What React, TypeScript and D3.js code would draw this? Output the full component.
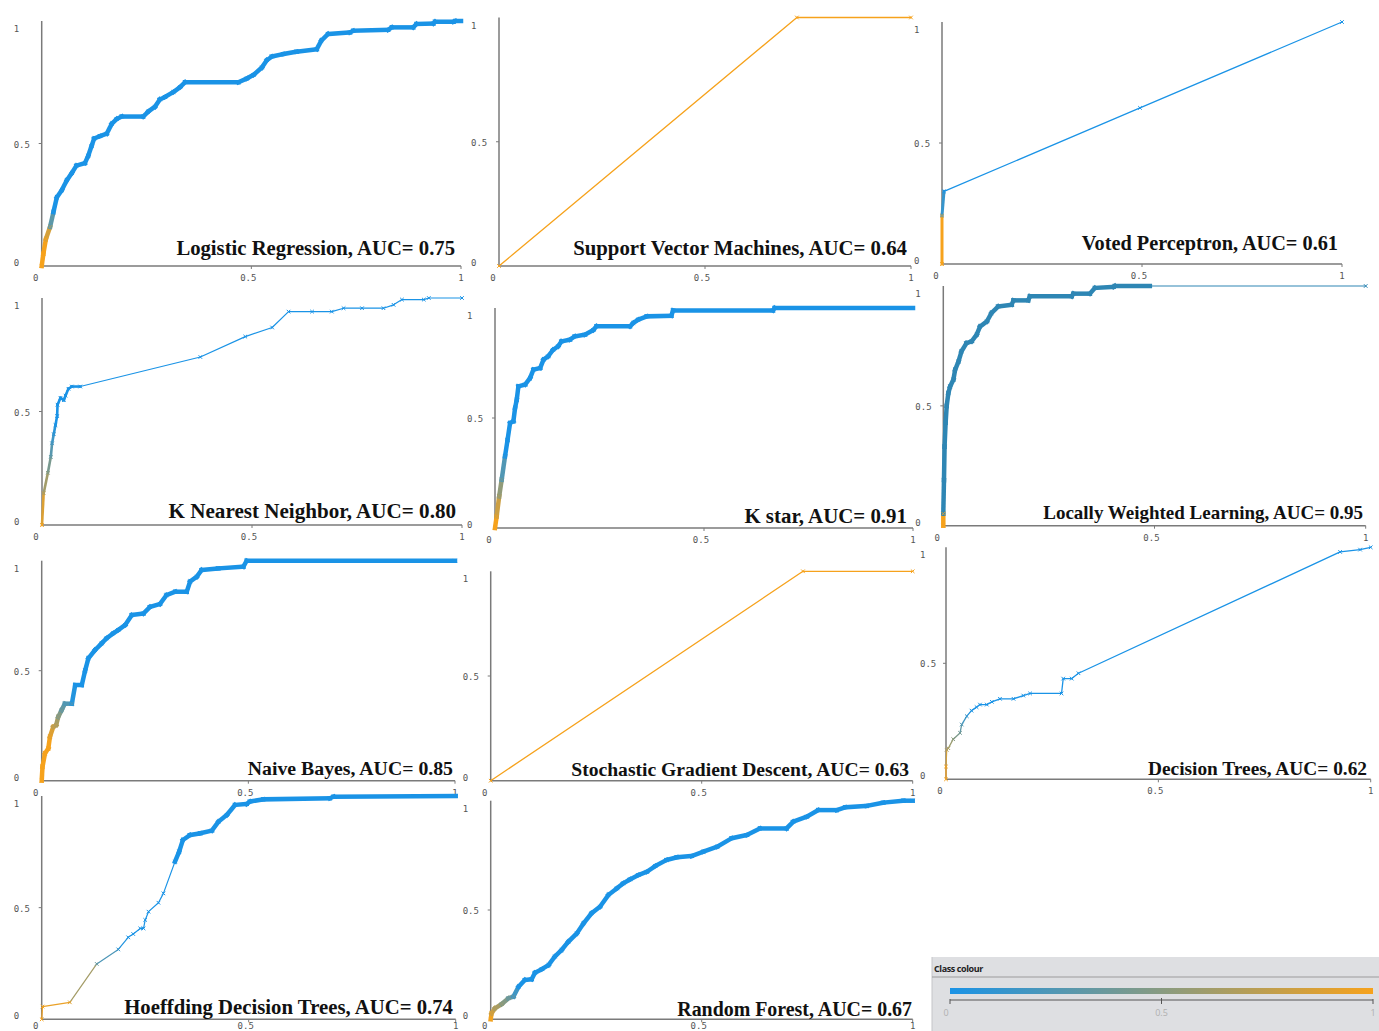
import React from "react";
import * as d3 from "d3";

type Pt = [number, number];

// ---- ROC data (FPR, TPR) ----
const logisticRegression: Pt[] = [
  [0, 0], [0.004, 0.05], [0.01, 0.11], [0.02, 0.16], [0.028, 0.22], [0.036, 0.28], [0.048, 0.31],
  [0.06, 0.35], [0.072, 0.38], [0.083, 0.41], [0.103, 0.42], [0.111, 0.45], [0.119, 0.49],
  [0.125, 0.52], [0.139, 0.53], [0.155, 0.54], [0.167, 0.58], [0.179, 0.6], [0.191, 0.61],
  [0.242, 0.61], [0.254, 0.63], [0.27, 0.65], [0.282, 0.68], [0.294, 0.69], [0.314, 0.71],
  [0.33, 0.73], [0.342, 0.75], [0.469, 0.75], [0.489, 0.765], [0.505, 0.78], [0.525, 0.81],
  [0.537, 0.84], [0.549, 0.855], [0.576, 0.865], [0.608, 0.875], [0.656, 0.885], [0.667, 0.92],
  [0.683, 0.947], [0.735, 0.953], [0.743, 0.96], [0.826, 0.964], [0.835, 0.974], [0.886, 0.974],
  [0.894, 0.988], [0.934, 0.99], [0.938, 0.997], [0.982, 0.997], [0.986, 1.0], [1, 1],
];
const supportVectorMachines: Pt[] = [[0, 0], [0.723, 1.0], [1, 1.0]];
const votedPerceptron: Pt[] = [[0, 0], [0, 0.2], [0.005, 0.3], [0.495, 0.645], [1, 1]];
const kNearestNeighbor: Pt[] = [
  [0, 0], [0.004, 0.14], [0.014, 0.23], [0.021, 0.3], [0.024, 0.36], [0.028, 0.4], [0.032, 0.44],
  [0.036, 0.48], [0.037, 0.53], [0.044, 0.56], [0.052, 0.55], [0.056, 0.57], [0.063, 0.6],
  [0.071, 0.61], [0.091, 0.61], [0.377, 0.74], [0.484, 0.83], [0.548, 0.87], [0.587, 0.94],
  [0.643, 0.94], [0.69, 0.94], [0.718, 0.955], [0.762, 0.955], [0.813, 0.955], [0.837, 0.97],
  [0.857, 0.993], [0.909, 0.993], [0.921, 1.0], [1, 1],
];
const kStar: Pt[] = [
  [0, 0], [0.004, 0.053], [0.01, 0.144], [0.016, 0.22], [0.024, 0.326], [0.03, 0.4], [0.036, 0.477],
  [0.044, 0.485], [0.048, 0.545], [0.052, 0.583], [0.056, 0.644], [0.072, 0.652], [0.084, 0.682],
  [0.092, 0.72], [0.108, 0.727], [0.116, 0.765], [0.127, 0.78], [0.139, 0.81], [0.151, 0.826],
  [0.159, 0.848], [0.179, 0.856], [0.191, 0.871], [0.215, 0.879], [0.235, 0.9], [0.243, 0.917],
  [0.323, 0.917], [0.331, 0.932], [0.343, 0.947], [0.363, 0.962], [0.422, 0.965], [0.426, 0.989],
  [0.665, 0.989], [0.669, 1.0], [1, 1],
];
const locallyWeightedLearning: Pt[] = [
  [0, 0], [0, 0.05], [0.0016, 0.19], [0.003, 0.33], [0.0055, 0.43], [0.008, 0.5], [0.012, 0.553],
  [0.016, 0.58], [0.024, 0.61], [0.028, 0.65], [0.036, 0.685], [0.043, 0.727], [0.055, 0.762],
  [0.067, 0.769], [0.079, 0.797], [0.087, 0.831], [0.103, 0.852], [0.114, 0.887], [0.13, 0.915],
  [0.162, 0.922], [0.166, 0.94], [0.201, 0.94], [0.205, 0.957], [0.304, 0.957], [0.308, 0.968],
  [0.347, 0.968], [0.359, 0.992], [0.403, 0.996], [0.406, 1.0], [0.489, 1.0], [1, 1],
];
const naiveBayes: Pt[] = [
  [0, 0], [0.002, 0.064], [0.008, 0.124], [0.016, 0.147], [0.02, 0.2], [0.028, 0.245], [0.035, 0.253],
  [0.04, 0.29], [0.048, 0.32], [0.056, 0.35], [0.073, 0.35], [0.081, 0.435], [0.097, 0.435],
  [0.105, 0.5], [0.113, 0.556], [0.129, 0.594], [0.145, 0.624], [0.157, 0.647], [0.173, 0.67],
  [0.185, 0.685], [0.202, 0.708], [0.218, 0.753], [0.246, 0.76], [0.262, 0.79], [0.286, 0.803],
  [0.302, 0.844], [0.323, 0.859], [0.351, 0.859], [0.359, 0.905], [0.375, 0.927], [0.387, 0.958],
  [0.427, 0.965], [0.488, 0.973], [0.496, 1.0], [1, 1],
];
const stochasticGradientDescent: Pt[] = [[0, 0], [0.74, 1.0], [1, 1.0]];
const decisionTrees: Pt[] = [
  [0, 0], [0, 0.055], [0.0016, 0.127], [0.0055, 0.134], [0.017, 0.173], [0.033, 0.2], [0.037, 0.236],
  [0.049, 0.272], [0.06, 0.296], [0.072, 0.311], [0.08, 0.322], [0.096, 0.322], [0.108, 0.334],
  [0.127, 0.347], [0.159, 0.347], [0.182, 0.361], [0.198, 0.37], [0.272, 0.37], [0.276, 0.434],
  [0.296, 0.434], [0.312, 0.457], [0.928, 0.98], [0.975, 0.99], [1, 1.0],
];
const hoeffdingTrees: Pt[] = [
  [0, 0], [0.002, 0.057], [0.068, 0.076], [0.133, 0.248], [0.185, 0.313], [0.209, 0.367],
  [0.221, 0.382], [0.238, 0.407], [0.246, 0.407], [0.25, 0.445], [0.258, 0.482], [0.282, 0.522],
  [0.294, 0.564], [0.322, 0.706], [0.332, 0.751], [0.341, 0.803], [0.358, 0.825], [0.383, 0.833],
  [0.411, 0.845], [0.427, 0.885], [0.447, 0.915], [0.467, 0.96], [0.495, 0.964], [0.503, 0.975],
  [0.535, 0.985], [0.696, 0.99], [0.705, 0.997], [1, 1],
];
const randomForest: Pt[] = [
  [0, 0], [0.002, 0.027], [0.01, 0.05], [0.026, 0.07], [0.042, 0.096], [0.054, 0.104], [0.066, 0.149],
  [0.081, 0.18], [0.097, 0.183], [0.105, 0.213], [0.121, 0.229], [0.137, 0.248], [0.152, 0.287],
  [0.168, 0.317], [0.184, 0.355], [0.204, 0.393], [0.22, 0.439], [0.239, 0.485], [0.259, 0.515],
  [0.279, 0.569], [0.299, 0.599], [0.314, 0.622], [0.33, 0.64], [0.35, 0.66], [0.37, 0.675],
  [0.39, 0.701], [0.417, 0.729], [0.441, 0.741], [0.476, 0.747], [0.504, 0.767], [0.537, 0.79],
  [0.571, 0.828], [0.607, 0.843], [0.638, 0.873], [0.701, 0.873], [0.717, 0.904], [0.749, 0.927],
  [0.776, 0.957], [0.82, 0.957], [0.84, 0.97], [0.891, 0.976], [0.93, 0.991], [0.978, 1.0], [1, 1.0],
];

const modelNames = [
  "Logistic Regression", "Support Vector Machines", "Voted Perceptron",
  "K Nearest Neighbor", "K star", "Locally Weighted Learning",
  "Naive Bayes", "Stochastic Gradient Descent", "Decision Trees",
  "Hoeffding Decision Trees", "Random Forest",
];
const aucValues = ["0.75", "0.64", "0.61", "0.80", "0.91", "0.95", "0.85", "0.63", "0.62", "0.74", "0.67"];
const series = [
  logisticRegression, supportVectorMachines, votedPerceptron,
  kNearestNeighbor, kStar, locallyWeightedLearning,
  naiveBayes, stochasticGradientDescent, decisionTrees,
  hoeffdingTrees, randomForest,
];
const tickValues = [0, 0.5, 1];
const tickLabels = ["0", "0.5", "1"];
const legendTicks = [0, 0.5, 1];
const legendLabels = ["0", "0.5", "1"];

// ---- layout & style (not data) ----
type Layout = {
  x0: number; x1: number; yb: number; yt: number; tx: number; ty: number; fs: number;
  wide: number; thin: number; thick: [number, number]; fade: [number, number];
  blue?: string; xl?: number; yl?: number;
};
const layouts: Layout[] = [
  { x0: 41.7, x1: 461, yb: 266, yt: 21, tx: 455, ty: 255, fs: 20.7, wide: 4.5, thin: 1.3, thick: [0, 1], fade: [0.12, 0.22] },
  { x0: 499, x1: 911, yb: 266, yt: 17.5, tx: 907, ty: 255, fs: 20.8, wide: 1.3, thin: 1.3, thick: [2, 2], fade: [9, 10] },
  { x0: 942, x1: 1342, yb: 264, yt: 22, tx: 1338, ty: 250, fs: 20.3, wide: 3, thin: 1.2, thick: [0, 0.01], fade: [0.18, 0.26] },
  { x0: 42, x1: 462, yb: 525, yt: 298, tx: 456, ty: 518, fs: 21.1, wide: 2.6, thin: 1.2, thick: [0, 0.092], fade: [0.02, 0.45] },
  { x0: 495, x1: 913, yb: 528, yt: 308, tx: 907, ty: 523, fs: 20.9, wide: 4.5, thin: 1.3, thick: [0, 1], fade: [0.04, 0.35] },
  { x0: 943.3, x1: 1365.7, yb: 525.7, yt: 286, tx: 1363, ty: 519, fs: 19.0, wide: 4.5, thin: 1.2, thick: [0, 0.49], fade: [0.04, 0.1], blue: "#2e86b4" },
  { x0: 41.7, x1: 455, yb: 780.7, yt: 560.7, tx: 453, ty: 775, fs: 19.8, wide: 4.5, thin: 1.3, thick: [0, 1], fade: [0.2, 0.4] },
  { x0: 490.7, x1: 912.7, yb: 780.7, yt: 571.3, tx: 909, ty: 776, fs: 19.6, wide: 1.3, thin: 1.3, thick: [2, 2], fade: [9, 10] },
  { x0: 946, x1: 1370.7, yb: 779.3, yt: 547.3, tx: 1367, ty: 775, fs: 19.35, wide: 1.4, thin: 1.3, thick: [2, 2], fade: [0.05, 0.3], yl: 26 },
  { x0: 41.7, x1: 455.7, yb: 1019.3, yt: 796, tx: 453, ty: 1014, fs: 20.75, wide: 4.5, thin: 1.2, thick: [0.32, 1], fade: [0.05, 0.35], xl: 9.5 },
  { x0: 490.7, x1: 912.7, yb: 1019.3, yt: 800.7, tx: 912, ty: 1016, fs: 19.9, wide: 4.5, thin: 1.3, thick: [0, 1], fade: [0.01, 0.15], xl: 9.5 },
];

const BLUE = "#1a93e6";
const ORANGE = "#f6a21c";
const AXIS = "#7a7a7a";
const LABEL_FONT = "'DejaVu Sans Mono', monospace";

function Panel({ data, lay, name, auc }: { data: Pt[]; lay: Layout; name: string; auc: string }) {
  const x = d3.scaleLinear().domain([0, 1]).range([lay.x0, lay.x1]);
  const y = d3.scaleLinear().domain([0, 1]).range([lay.yb, lay.yt]);
  const blue = lay.blue ?? BLUE;
  const colorOf = (v: number) => {
    const t = Math.max(0, Math.min(1, (v - lay.fade[0]) / (lay.fade[1] - lay.fade[0])));
    return d3.interpolateRgb(ORANGE, blue)(t);
  };
  const isThick = (a: Pt, b: Pt) => a[0] >= lay.thick[0] - 1e-9 && b[0] <= lay.thick[1] + 1e-9;
  const segs = [] as JSX.Element[];
  const marks = [] as JSX.Element[];
  for (let i = 1; i < data.length; i++) {
    const a = data[i - 1], b = data[i];
    const thick = isThick(a, b);
    const c = colorOf((a[1] + b[1]) / 2);
    segs.push(
      <line key={"s" + i} x1={x(a[0])} y1={y(a[1])} x2={x(b[0])} y2={y(b[1])}
        stroke={c} strokeWidth={thick ? lay.wide : lay.thin}
        strokeLinecap={thick && lay.wide > 2 ? "square" : "round"} />
    );
  }
  data.forEach((p, i) => {
    const c = colorOf(p[1]);
    const px = x(p[0]), py = y(p[1]);
    const s = 1.8;
    marks.push(
      <path key={"m" + i} d={`M${px - s},${py - s}L${px + s},${py + s}M${px - s},${py + s}L${px + s},${py - s}`}
        stroke={c} strokeWidth={1} fill="none" />
    );
  });
  const xMid = x(0.5), yMid = y(0.5);
  const xl = lay.xl ?? 15;
  const yl = lay.yl ?? 28;
  return (
    <g>
      <line x1={lay.x0} y1={lay.yt} x2={lay.x0} y2={lay.yb} stroke={AXIS} strokeWidth={1.5} />
      <line x1={lay.x0} y1={lay.yb} x2={lay.x1} y2={lay.yb} stroke={AXIS} strokeWidth={1.5} />
      <line x1={lay.x0 - 3} y1={yMid} x2={lay.x0} y2={yMid} stroke={AXIS} strokeWidth={1} />
      <line x1={xMid} y1={lay.yb} x2={xMid} y2={lay.yb + 3} stroke={AXIS} strokeWidth={1} />
      <line x1={lay.x1} y1={lay.yb} x2={lay.x1} y2={lay.yb + 3} stroke={AXIS} strokeWidth={1} />
      {tickValues.map((v, i) => {
        const xOff = i === 0 ? -6 : i === 1 ? -3 : 0;
        return (
          <text key={"xt" + i} x={x(v) + xOff} y={lay.yb + xl} textAnchor="middle"
            fontFamily={LABEL_FONT} fontSize={9} fill="#555">{tickLabels[i]}</text>
        );
      })}
      {tickValues.map((v, i) => {
        const yOff = i === 0 ? -3 : i === 1 ? 1 : 8;
        return (
          <text key={"yt" + i} x={lay.x0 - yl} y={y(v) + yOff + 3} textAnchor="start"
            fontFamily={LABEL_FONT} fontSize={9} fill="#555">{tickLabels[i]}</text>
        );
      })}
      {segs}
      {marks}
      <text x={lay.tx} y={lay.ty} textAnchor="end" fontFamily="'Liberation Serif', 'Times New Roman', serif"
        fontWeight="bold" fontSize={lay.fs} fill="#111">{`${name}, AUC= ${auc}`}</text>
    </g>
  );
}

function Legend() {
  const lx = d3.scaleLinear().domain([0, 1]).range([950, 1373]);
  return (
    <g>
      <defs>
        <linearGradient id="classColour" x1="0" x2="1" y1="0" y2="0">
          <stop offset="0%" stopColor={BLUE} />
          <stop offset="50%" stopColor={d3.interpolateRgb(BLUE, ORANGE)(0.5)} />
          <stop offset="100%" stopColor={ORANGE} />
        </linearGradient>
      </defs>
      <rect x={932} y={957} width={447} height={74} fill="#dedfe2" />
      <line x1={932} y1={957} x2={932} y2={1031} stroke="#c4c5c8" strokeWidth={1} />
      <text x={934} y={972} fontFamily="'Open Sans', 'Noto Sans', sans-serif" fontWeight="bold"
        fontSize={9} fill="#222" letterSpacing={-0.4}>Class colour</text>
      <line x1={932} y1={977} x2={1379} y2={977} stroke="#9c9c9c" strokeWidth={1.2} />
      <rect x={lx(0)} y={988} width={lx(1) - lx(0)} height={6} fill="url(#classColour)" />
      <line x1={lx(0)} y1={1000} x2={lx(1)} y2={1000} stroke="#555" strokeWidth={1} />
      {legendTicks.map((v, i) => (
        <g key={i}>
          <line x1={lx(v)} y1={i === 1 ? 998 : 999} x2={lx(v)} y2={1004} stroke="#555" strokeWidth={1} />
          <text x={lx(v) + (i === 0 ? -4 : 0)} y={1016} textAnchor="middle" fontFamily="'Open Sans', sans-serif"
            fontSize={9} fill="#b0b0b0">{legendLabels[i]}</text>
        </g>
      ))}
    </g>
  );
}

export default function App() {
  return (
    <svg width={1379} height={1031} style={{ position: "absolute", left: 0, top: 0, background: "#fff" }}>
      <rect x={0} y={0} width={1379} height={1031} fill="#fff" />
      {series.map((d, i) => (
        <Panel key={i} data={d} lay={layouts[i]} name={modelNames[i]} auc={aucValues[i]} />
      ))}
      <Legend />
    </svg>
  );
}
